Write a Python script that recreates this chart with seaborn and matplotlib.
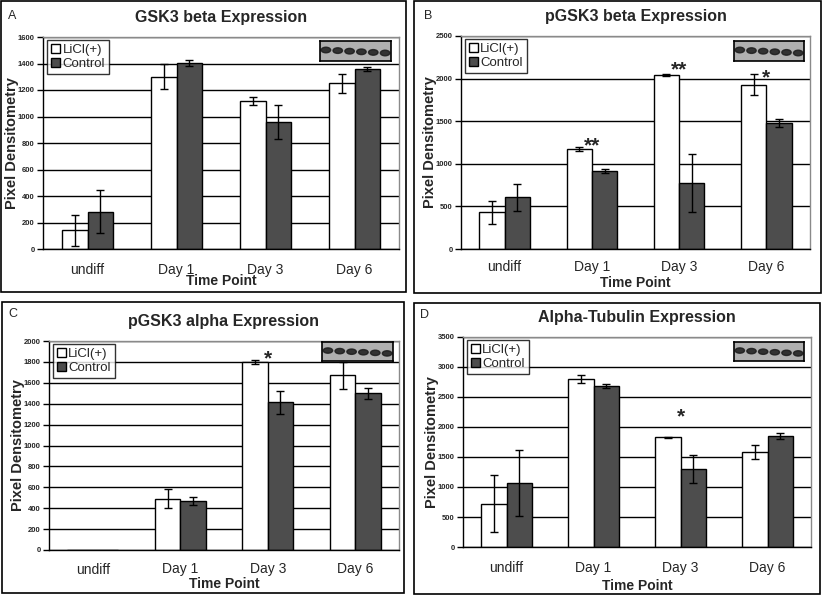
import pandas as pd
import matplotlib.pyplot as plt
import seaborn as sns
from matplotlib.patches import Rectangle, Ellipse
from matplotlib.ticker import MultipleLocator, FixedLocator

sns.set_style("white")
plt.rcParams['font.family'] = ['Liberation Sans', 'DejaVu Sans']

# -------------------------------
# Data
# -------------------------------
groups = ["undiff", "Day 1", "Day 3", "Day 6"]
treatments = ["LiCl(+)", "Control"]

gsk3b_licl = [140, 1300, 1115, 1250]
gsk3b_licl_err = [118, 93, 30, 73]
gsk3b_ctrl = [280, 1405, 960, 1360]
gsk3b_ctrl_err = [163, 22, 130, 15]

pgsk3b_licl = [430, 1175, 2040, 1930]
pgsk3b_licl_err = [138, 20, 10, 128]
pgsk3b_ctrl = [605, 915, 770, 1475]
pgsk3b_ctrl_err = [157, 23, 340, 45]

pgsk3a_licl = [0, 490, 1800, 1670]
pgsk3a_licl_err = [0, 90, 20, 130]
pgsk3a_ctrl = [0, 470, 1415, 1500]
pgsk3a_ctrl_err = [0, 35, 110, 55]

tub_licl = [720, 2800, 1830, 1580]
tub_licl_err = [475, 65, 10, 115]
tub_ctrl = [1070, 2680, 1300, 1850]
tub_ctrl_err = [545, 35, 230, 50]

# significance stars: (group, label, y of star centre)
stars_b = [("Day 1", "**", 1280), ("Day 3", "**", 2180), ("Day 6", "*", 2080)]
stars_c = [("Day 3", "*", 1885)]
stars_d = [("Day 3", "*", 2280)]

W, H = 822, 595
fig = plt.figure(figsize=(W / 100, H / 100), dpi=100)


def px_box(l, t, r, b):
    return [l / W, 1 - b / H, (r - l) / W, (b - t) / H]


# panel frames
for (l, t, r, b) in [(1, 1, 406, 292), (414, 1, 821, 293),
                     (2, 302, 404, 593), (414, 303, 820, 594)]:
    fig.patches.append(Rectangle((l / W, 1 - b / H), (r - l) / W, (b - t) / H,
                                 transform=fig.transFigure, fill=False,
                                 edgecolor="black", linewidth=1.2))

colors = {"LiCl(+)": "white", "Control": "#4d4d4d"}


def draw_panel(letter, letter_xy, title, licl, licl_err, ctrl, ctrl_err,
               ymax, step, ax_box, blot_box, stars, xpad):
    ax = fig.add_axes(px_box(*ax_box))
    df = pd.DataFrame({
        "group": groups * 2,
        "treatment": [treatments[0]] * 4 + [treatments[1]] * 4,
        "value": licl + ctrl,
        "err": licl_err + ctrl_err,
    })
    sns.barplot(data=df, x="group", y="value", hue="treatment", order=groups,
                hue_order=treatments, palette=colors, width=0.58,
                edgecolor="black", linewidth=1, errorbar=None, ax=ax, zorder=2)

    # error bars on top of each bar
    bars = [p for p in ax.patches if p.get_width() > 0][:8]
    for p, e in zip(bars, df["err"]):
        if e > 0:
            ax.errorbar(p.get_x() + p.get_width() / 2, p.get_height(), yerr=e,
                        color="black", capsize=3, elinewidth=1, capthick=1,
                        zorder=3)

    ax.set_ylim(0, ymax)
    ax.set_xlim(-0.5, 3.5)
    ax.yaxis.set_major_locator(MultipleLocator(step))
    ax.grid(axis="y", color="black", linewidth=1)
    ax.set_axisbelow(True)
    ax.xaxis.set_minor_locator(FixedLocator([-0.5, 0.5, 1.5, 2.5, 3.5]))
    ax.tick_params(axis="x", which="major", length=0, labelsize=10, pad=xpad[0])
    ax.tick_params(axis="x", which="minor", length=5, width=1, direction="out",
                   color="black")
    ax.tick_params(axis="y", length=4, width=1, direction="out", labelsize=5.5,
                   pad=2, left=True, color="black")
    for lab in ax.get_yticklabels():
        lab.set_fontweight("bold")
    for s in ["left", "bottom"]:
        ax.spines[s].set_color("black")
        ax.spines[s].set_linewidth(1)
    for s in ["top", "right"]:
        ax.spines[s].set_color("#8a8a8a")
        ax.spines[s].set_linewidth(1)

    ax.set_xlabel("Time Point", fontsize=10, fontweight="bold",
                  labelpad=xpad[1])
    ax.set_ylabel("Pixel Densitometry", fontsize=10.5, fontweight="bold",
                  labelpad=-1)
    ax.set_title(title, fontsize=11.5, fontweight="bold", pad=11)

    leg = ax.legend(loc="upper left", bbox_to_anchor=(0.012, 0.985),
                    fontsize=9.5, frameon=True, fancybox=False,
                    handlelength=0.7, handleheight=0.7, handletextpad=0.15,
                    borderpad=0.3, labelspacing=0.1, borderaxespad=0)
    leg.get_frame().set_edgecolor("black")
    leg.get_frame().set_linewidth(1)
    leg.set_zorder(5)

    for grp, txt, y in stars:
        ax.annotate(txt, xy=(groups.index(grp), y), xytext=(0, -8.5),
                    textcoords="offset points", ha="center", va="baseline",
                    fontsize=15, fontweight="bold")

    # panel letter
    fig.text(letter_xy[0] / W, 1 - letter_xy[1] / H, letter, fontsize=9,
             ha="center", va="center")

    # western blot inset
    bax = fig.add_axes(px_box(*blot_box))
    bax.set_facecolor("#b0b0b0")
    bax.set_xlim(0, 6)
    bax.set_ylim(0, 1)
    for i in range(6):
        bax.add_patch(Ellipse((i + 0.5, 0.55 - 0.03 * i), 0.8, 0.28,
                              color="#1c1c1c", alpha=0.85))
    bax.set_xticks([])
    bax.set_yticks([])
    for s in bax.spines.values():
        s.set_color("black")
        s.set_linewidth(1.2)
    return ax


draw_panel("A", (12, 16), "GSK3 beta Expression", gsk3b_licl, gsk3b_licl_err,
           gsk3b_ctrl, gsk3b_ctrl_err, 1600, 200,
           (43, 37, 399, 249), (320, 41, 391, 61), [], (10, -2))
draw_panel("B", (428, 16), "pGSK3 beta Expression", pgsk3b_licl,
           pgsk3b_licl_err, pgsk3b_ctrl, pgsk3b_ctrl_err, 2500, 500,
           (461, 36, 810, 249), (734, 41, 804, 61), stars_b, (8, 1))
draw_panel("C", (13, 314), "pGSK3 alpha Expression", pgsk3a_licl,
           pgsk3a_licl_err, pgsk3a_ctrl, pgsk3a_ctrl_err, 2000, 200,
           (49, 341, 399, 550), (322, 342, 393, 361), stars_c, (9, 0))
draw_panel("D", (424, 315), "Alpha-Tubulin Expression", tub_licl,
           tub_licl_err, tub_ctrl, tub_ctrl_err, 3500, 500,
           (463, 337, 811, 547), (734, 342, 804, 361), stars_d, (10, 3))

fig.savefig("out.png", dpi=100)
